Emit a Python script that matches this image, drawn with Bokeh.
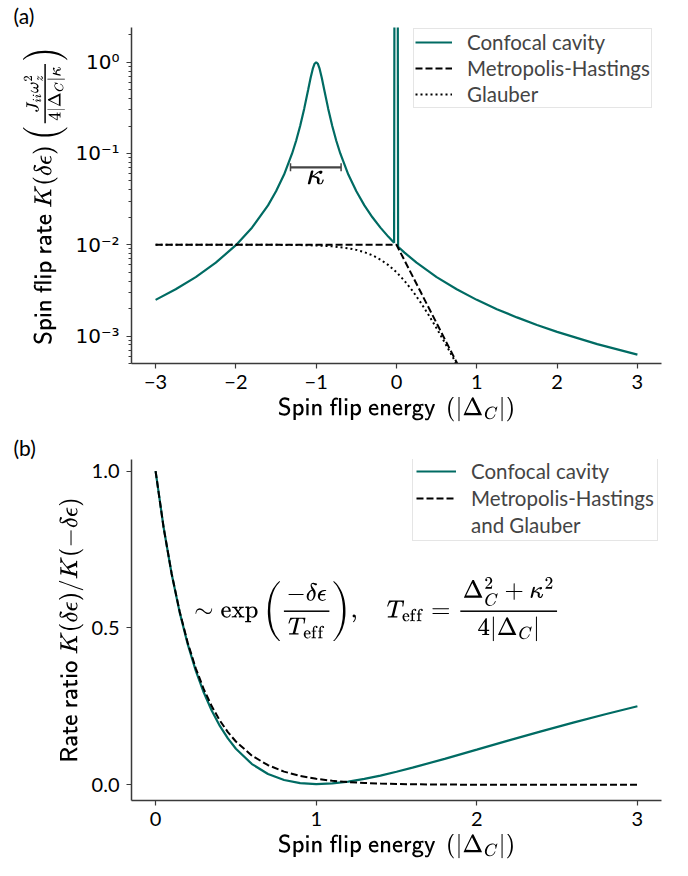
from bokeh.plotting import figure
from bokeh.layouts import column
from bokeh.models import (Range1d, FixedTicker, CustomJSTickFormatter, PrintfTickFormatter,
                          Legend, LegendItem, Label, Whisker, TeeHead, ColumnDataSource)
from bokeh.embed import file_html
from bokeh.resources import INLINE

# ---------------- data ----------------
# Panel (a): spin flip rate vs spin flip energy
conf_x = [-3.0, -2.75, -2.5, -2.25, -2.0, -1.8, -1.6, -1.5, -1.4, -1.3, -1.25, -1.2, -1.15,
          -1.1, -1.07, -1.04, -1.02, -1.0, -0.98, -0.96, -0.93, -0.9, -0.85, -0.8, -0.75,
          -0.7, -0.6, -0.5, -0.4, -0.3, -0.2, -0.1, -0.03, -0.022, 0.012, 0.02, 0.1, 0.25,
          0.5, 0.75, 1.0, 1.25, 1.5, 1.75, 2.0, 2.5, 3.0]
conf_y = [0.00249, 0.00325, 0.00442, 0.00636, 0.0099, 0.0154, 0.027, 0.0385, 0.0588, 0.100,
          0.138, 0.200, 0.308, 0.500, 0.671, 0.862, 0.962, 1.0, 0.962, 0.862, 0.671, 0.500,
          0.308, 0.200, 0.138, 0.100, 0.0588, 0.0385, 0.027, 0.020, 0.0154, 0.0122, 0.0105,
          1000.0, 1000.0, 0.00952, 0.0082, 0.00636, 0.00442, 0.00325, 0.00249, 0.00197,
          0.0016, 0.00132, 0.00111, 0.000816, 0.000625]

mh_x = [-3.0, -2.0, -1.0, 0.0, 0.1, 0.2, 0.3, 0.4, 0.5, 0.6, 0.7, 0.8]
mh_y = [0.01, 0.01, 0.01, 0.01, 0.00673, 0.00453, 0.00305, 0.00205, 0.00138, 0.000929,
        0.000625, 0.000421]

gl_x = [-3.0, -2.0, -1.5, -1.2, -1.0, -0.8, -0.6, -0.5, -0.4, -0.3, -0.2, -0.1, 0.0, 0.1,
        0.2, 0.3, 0.4, 0.5, 0.6, 0.7, 0.8]
gl_y = [0.01, 0.009996, 0.009974, 0.009914, 0.00981, 0.0096, 0.00915, 0.00879, 0.0083,
        0.00766, 0.00688, 0.00598, 0.005, 0.00402, 0.00312, 0.002336, 0.001702, 0.001213,
        0.00085, 0.000589, 0.000404]

kappa_bar = dict(y=[0.0705], left=[-1.32], right=[-0.69])
kappa_text_pos = (-1.01, 0.046)

top_xticks = [-3, -2, -1, 0, 1, 2, 3]
top_yticks = [0.001, 0.01, 0.1, 1.0]
top_yminor = [m * 10.0 ** e for e in (-4, -3, -2, -1, 0) for m in range(2, 10)]

# Panel (b): rate ratio
ratio_x = [0.0, 0.05, 0.1, 0.15, 0.2, 0.25, 0.3, 0.35, 0.4, 0.45, 0.5, 0.6, 0.7, 0.8, 0.9,
           1.0, 1.1, 1.2, 1.3, 1.4, 1.5, 1.6, 1.8, 2.0, 2.2, 2.4, 2.6, 2.8, 3.0]
conf_ratio = [1.0, 0.8202, 0.6721, 0.5497, 0.4483, 0.3641, 0.2941, 0.236, 0.1878, 0.1479,
              0.115, 0.0661, 0.0345, 0.01538, 0.00552, 0.00249, 0.00452, 0.01031, 0.01887,
              0.02946, 0.04153, 0.05465, 0.0828, 0.1121, 0.1415, 0.1703, 0.1981, 0.2249, 0.2505]
mh_ratio = [1.0, 0.82, 0.673, 0.552, 0.453, 0.3716, 0.3048, 0.2501, 0.2051, 0.168, 0.138,
            0.0929, 0.0625, 0.0421, 0.0283, 0.01906, 0.0128, 0.00864, 0.0058, 0.0039, 0.0026,
            0.00177, 0.0008, 0.00036, 0.00016, 0.00007, 0.00003, 0.00001, 0.0000069]

bot_xticks = [0, 1, 2, 3]
bot_yticks = [0.0, 0.5, 1.0]

# ---------------- styling ----------------
TEAL = "#006b63"
FONT = "Lato"
AXIS_COL = "#3a3a3a"


def style_axes(p):
    p.outline_line_color = None
    p.xgrid.grid_line_color = None
    p.ygrid.grid_line_color = None
    for ax in (p.xaxis[0], p.yaxis[0]):
        ax.axis_line_color = AXIS_COL
        ax.axis_line_width = 1.5
        ax.major_tick_line_color = AXIS_COL
        ax.major_tick_line_width = 1.2
        ax.major_tick_out = 5
        ax.major_tick_in = 0
        ax.minor_tick_line_color = AXIS_COL
        ax.minor_tick_out = 3
        ax.minor_tick_in = 0
        ax.major_label_text_font = FONT
        ax.major_label_text_font_size = "20px"
        ax.major_label_text_color = "black"
        ax.axis_label_text_font = FONT
        ax.axis_label_text_font_size = "21px"
        ax.axis_label_text_font_style = "normal"
        ax.axis_label_text_color = "black"
    p.xaxis.major_label_standoff = 6
    p.yaxis.major_label_standoff = 7


def panel_title(p, text):
    p.title.text = text
    p.title.align = "left"
    p.title.offset = -118
    p.title.standoff = 0
    p.title.text_font = FONT
    p.title.text_font_size = "21px"
    p.title.text_font_style = "normal"
    p.title.text_color = "black"


XLABEL = r"$$\textsf{Spin flip energy }\left(|\Delta_C|\right)$$"

# ---------------- panel (a) ----------------
p1 = figure(width=688, height=432, y_axis_type="log",
            x_range=Range1d(-3.3, 3.3), y_range=Range1d(5e-4, 2.4),
            output_backend="svg", toolbar_location=None,
            min_border_left=131, min_border_right=27, min_border_top=0, min_border_bottom=69)
style_axes(p1)
panel_title(p1, "(a)")
p1.xaxis.ticker = FixedTicker(ticks=top_xticks)
p1.xaxis.minor_tick_line_color = None
p1.yaxis.ticker = FixedTicker(ticks=top_yticks, minor_ticks=top_yminor)
p1.yaxis.formatter = CustomJSTickFormatter(code="""
const e = Math.round(Math.log10(tick));
const sup = {'-': '\u207b', '0': '\u2070', '1': '\u00b9', '2': '\u00b2', '3': '\u00b3'};
return '10' + String(e).split('').map(c => sup[c]).join('');
""")
p1.yaxis.major_label_text_font = "DejaVu Sans"
p1.yaxis.major_label_text_font_size = "20px"
p1.xaxis.axis_label = XLABEL
p1.yaxis.axis_label = r"$$\textsf{Spin flip rate }K(\delta\epsilon)\left(\tfrac{J_{ii}\omega_z^2}{4|\Delta_C|\kappa}\right)$$"

r_conf = p1.line(conf_x, conf_y, line_color=TEAL, line_width=2.2)
r_mh = p1.line(mh_x, mh_y, line_color="black", line_width=2, line_dash="7 3")
r_gl = p1.line(gl_x, gl_y, line_color="black", line_width=2, line_dash="2 3")

ksrc = ColumnDataSource(kappa_bar)
p1.add_layout(Whisker(source=ksrc, base="y", lower="left", upper="right", dimension="width",
                      line_color="#444444", line_width=2.2,
                      lower_head=TeeHead(size=8, line_color="#444444", line_width=1.5),
                      upper_head=TeeHead(size=8, line_color="#444444", line_width=1.5)))
p1.add_layout(Label(x=kappa_text_pos[0], y=kappa_text_pos[1], text=r"$$\kappa$$",
                    text_font_size="25px", text_align="center", text_baseline="middle",
                    text_color="black"))

leg1 = Legend(items=[LegendItem(label="Confocal cavity", renderers=[r_conf]),
                     LegendItem(label="Metropolis-Hastings", renderers=[r_mh]),
                     LegendItem(label="Glauber", renderers=[r_gl])],
              location=(282, 255), label_text_font=FONT, label_text_font_size="20.5px",
              glyph_width=37, glyph_height=24, label_height=24, label_standoff=15,
              spacing=2, padding=1, border_line_color="#cccccc", border_line_width=1,
              background_fill_alpha=0.85, margin=0)
p1.add_layout(leg1)

# ---------------- panel (b) ----------------
p2 = figure(width=688, height=444,
            x_range=Range1d(-0.15, 3.15), y_range=Range1d(-0.05, 1.037),
            output_backend="svg", toolbar_location=None,
            min_border_left=131, min_border_right=27, min_border_top=0, min_border_bottom=76)
style_axes(p2)
panel_title(p2, "(b)")
p2.xaxis.ticker = FixedTicker(ticks=bot_xticks)
p2.yaxis.ticker = FixedTicker(ticks=bot_yticks)
p2.xaxis.minor_tick_line_color = None
p2.yaxis.minor_tick_line_color = None
p2.yaxis.formatter = PrintfTickFormatter(format="%.1f")
p2.xaxis.axis_label = XLABEL
p2.yaxis.axis_label = r"$$\textsf{Rate ratio }K(\delta\epsilon)/K(-\delta\epsilon)$$"

r2_conf = p2.line(ratio_x, conf_ratio, line_color=TEAL, line_width=2.2)
r2_mh = p2.line(ratio_x, mh_ratio, line_color="black", line_width=2, line_dash="7 3")
r2_blank = p2.line([0.0, 0.0], [0.0, 0.0], line_alpha=0)

leg2 = Legend(items=[LegendItem(label="Confocal cavity", renderers=[r2_conf]),
                     LegendItem(label="Metropolis-Hastings", renderers=[r2_mh]),
                     LegendItem(label="and Glauber", renderers=[r2_blank])],
              location=(281, 259), label_text_font=FONT, label_text_font_size="20.5px",
              glyph_width=40, glyph_height=24, label_height=24, label_standoff=15,
              spacing=3, padding=3, border_line_color="#cccccc", border_line_width=1,
              background_fill_alpha=0.85, margin=0)
p2.add_layout(leg2)

p2.add_layout(Label(x=0.24, y=0.56, text=r"$$\sim \exp\left(\frac{-\delta\epsilon}{T_{\rm eff}}\right), \quad T_{\rm eff} = \frac{\Delta_C^2+\kappa^2}{4|\Delta_C|}$$",
                    text_font_size="21px", text_align="left", text_baseline="middle",
                    text_color="black"))

layout = column(p1, p2, spacing=0)
open("out.html", "w").write(file_html(layout, INLINE))
